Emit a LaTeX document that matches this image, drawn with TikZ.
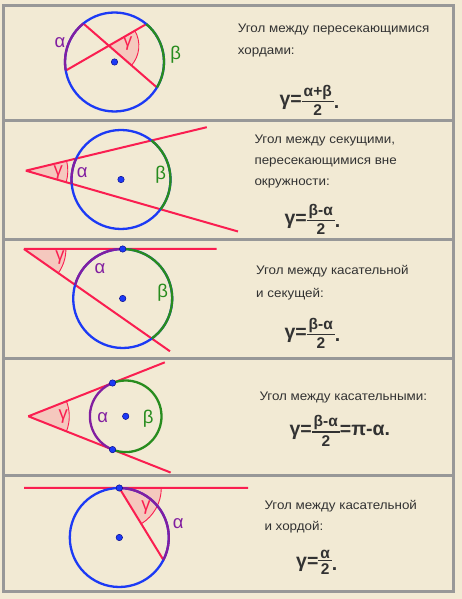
\documentclass[tikz,border=0pt]{standalone}
\usepackage{fontspec}
\setmainfont{Liberation Sans}
\setsansfont{Liberation Sans}
\newfontfamily\descrfont[FakeStretch=1.08]{Liberation Sans}
\usepackage{amsmath}
\usetikzlibrary{arrows,shapes,positioning,calc,angles}

\definecolor{bgbeige}{RGB}{242,234,212}
\definecolor{framegray}{RGB}{152,152,152}
\definecolor{cblue}{RGB}{28,58,245}
\definecolor{cgreen}{RGB}{40,140,30}
\definecolor{cpurple}{RGB}{130,30,160}
\definecolor{cred}{RGB}{250,30,80}
\definecolor{cpink}{RGB}{245,200,190}
\definecolor{txtgray}{RGB}{50,50,50}

\newcommand{\fr}[2]{\ensuremath{\vcenter{\offinterlineskip\fontsize{15.5}{15.5}\selectfont
	\halign{\hfil##\hfil\cr\kern2pt#1\kern2pt\cr\noalign{\kern1.5pt\hrule height1.5pt\kern2.5pt}#2\cr}}}}
\newcommand{\pnt}{\raisebox{-3pt}{.}}

\tikzset{
	circ/.style={cblue, line width=2.3pt},
	arca/.style={cpurple, line width=2.3pt},
	arcb/.style={cgreen, line width=2.3pt},
	secline/.style={cred, line width=2pt},
	gam/.style={draw=cred, fill=cpink, line width=0.9pt},
	dot/.style={circle, fill=cblue, draw=blue!50!black, inner sep=0pt, minimum size=6.5pt},
	lbl/.style={inner sep=0pt, font=\fontsize{18.5}{18.5}\selectfont},
	descr/.style={anchor=base west, inner sep=0pt, text=txtgray, font=\descrfont\fontsize{12.4}{14}\selectfont},
	formula/.style={anchor=west, inner sep=0pt, text=txtgray, font=\fontsize{19.5}{19.5}\selectfont\bfseries}
}

\begin{document}
\begin{tikzpicture}[x=1pt,y=1pt]
	\fill[bgbeige] (0,0) rectangle (462,599);
	\useasboundingbox (0,0) rectangle (462,599);
	\draw[framegray, line width=3pt] (3.5,7) rectangle (453.5,593.5);
	\foreach \y in {478.5,359,240,123.5}
		\draw[framegray, line width=3pt] (3.5,\y) -- (453.5,\y);

	% intersecting chords
	\coordinate (C1) at (114.5,537);
	\coordinate (A1) at ($(C1)+(129:49.5)$);
	\coordinate (B1) at ($(C1)+(190:49.5)$);
	\coordinate (D1) at ($(C1)+(-31:49.5)$);
	\coordinate (E1) at ($(C1)+(50:49.5)$);
	\coordinate (P1) at (intersection of A1--D1 and B1--E1);
	\pic[gam, angle radius=30pt] {angle=D1--P1--E1};
	\draw[secline] (A1) -- (D1) (B1) -- (E1);
	\draw[circ] (C1) circle[radius=49.5];
	\draw[arca] (B1) arc[start angle=190, end angle=129, radius=49.5];
	\draw[arcb] (D1) arc[start angle=-31, end angle=50, radius=49.5];
	\node[dot] (O1) at (C1) {};
	\node[lbl, cpurple] (a1) at (60,556.3) {α};
	\node[lbl, cgreen] (b1) at (175.7,544) {β};
	\node[lbl, cred] (g1) at (127.7,555.7) {γ};
	\node[descr] (t1a) at (237.7,566) {Угол между пересекающимися};
	\node[descr] (t1b) at (237.7,544.5) {хордами:};
	\node[formula] (f1) at (279.3,498.7) {γ=\fr{α+β}{2}\pnt};

	% two secants
	\coordinate (C2) at (121,419.5);
	\coordinate (A2) at ($(C2)+(155:49.5)$);
	\coordinate (B2) at ($(C2)+(52:49.5)$);
	\coordinate (D2) at ($(C2)+(185:49.5)$);
	\coordinate (E2) at ($(C2)+(-37:49.5)$);
	\coordinate (V2) at (intersection of A2--B2 and D2--E2);
	\coordinate (U2) at ($(V2)!1.44!(B2)$);
	\coordinate (W2) at ($(V2)!1.575!(E2)$);
	\pic[gam, angle radius=42pt] {angle=W2--V2--U2};
	\draw[secline] (V2) -- (U2) (V2) -- (W2);
	\draw[circ] (C2) circle[radius=49.5];
	\draw[arca] (A2) arc[start angle=155, end angle=185, radius=49.5];
	\draw[arcb] (E2) arc[start angle=-37, end angle=52, radius=49.5];
	\node[dot] (O2) at (C2) {};
	\node[lbl, cred] (g2) at (58.3,426.7) {γ};
	\node[lbl, cpurple] (a2) at (82.3,426.7) {α};
	\node[lbl, cgreen] (b2) at (160.7,424.7) {β};
	\node[descr] (t2a) at (254.3,455.5) {Угол между секущими,};
	\node[descr] (t2b) at (254.3,434.5) {пересекающимися вне};
	\node[descr] (t2c) at (254.3,413.8) {окружности:};
	\node[formula] (f2) at (284.3,379.7) {γ=\fr{β-α}{2}\pnt};

	% tangent and secant
	\coordinate (C3) at (122.7,300.5);
	\coordinate (T3) at ($(C3)+(90:49.5)$);
	\coordinate (A3) at ($(C3)+(164:49.5)$);
	\coordinate (B3) at ($(C3)+(-54:49.5)$);
	\coordinate (K3) at ($(T3)+(-100,0)$);
	\coordinate (V3) at (intersection of A3--B3 and T3--K3);
	\coordinate (U3) at ($(V3)!1.95!(T3)$);
	\coordinate (W3) at ($(V3)!1.142!(B3)$);
	\pic[gam, angle radius=42pt] {angle=W3--V3--T3};
	\draw[secline] (V3) -- (U3) (V3) -- (W3);
	\draw[circ] (C3) circle[radius=49.5];
	\draw[arca] (T3) arc[start angle=90, end angle=164, radius=49.5];
	\draw[arcb] (B3) arc[start angle=-54, end angle=90, radius=49.5];
	\node[dot] (O3) at (C3) {};
	\node[dot] (M3) at (T3) {};
	\node[lbl, cred] (g3) at (60,341.3) {γ};
	\node[lbl, cpurple] (a3) at (100,330.7) {α};
	\node[lbl, cgreen] (b3) at (162.7,306.7) {β};
	\node[descr] (t3a) at (256,324) {Угол между касательной};
	\node[descr] (t3b) at (256,301.2) {и секущей:};
	\node[formula] (f3) at (284.3,265.7) {γ=\fr{β-α}{2}\pnt};

	% two tangents
	\coordinate (C4) at (125.7,182.7);
	\coordinate (V4) at (28.3,182.7);
	\coordinate (A4) at ($(C4)+(111.57:35.8)$);
	\coordinate (B4) at ($(C4)+(248.43:35.8)$);
	\coordinate (U4) at ($(V4)!1.62!(A4)$);
	\coordinate (W4) at ($(V4)!1.69!(B4)$);
	\pic[gam, angle radius=41pt] {angle=W4--V4--U4};
	\draw[secline] (V4) -- (U4) (V4) -- (W4);
	\draw[arca] (A4) arc[start angle=111.57, end angle=248.43, radius=35.8];
	\draw[arcb] (B4) arc[start angle=-111.57, end angle=111.57, radius=35.8];
	\node[dot] (O4) at (C4) {};
	\node[dot] (M4) at (A4) {};
	\node[dot] (N4) at (B4) {};
	\node[lbl, cred] (g4) at (63.3,182.3) {γ};
	\node[lbl, cpurple] (a4) at (102.7,181.7) {α};
	\node[lbl, cgreen] (b4) at (148.3,180.7) {β};
	\node[descr] (t4a) at (259.3,198) {Угол между касательными:};
	\node[formula] (f4) at (289.3,168.3) {γ=\fr{β-α}{2}=π-α.};

	% tangent and chord
	\coordinate (C5) at (119.3,61.5);
	\coordinate (T5) at ($(C5)+(90:49.5)$);
	\coordinate (Q5) at ($(C5)+(-27:49.5)$);
	\coordinate (L5) at (24,111);
	\coordinate (R5) at (248,111);
	\pic[gam, angle radius=42pt] {angle=Q5--T5--R5};
	\draw[secline] (L5) -- (R5) (T5) -- (Q5);
	\draw[circ] (C5) circle[radius=49.5];
	\draw[arca] (Q5) arc[start angle=-27, end angle=90, radius=49.5];
	\node[dot] (O5) at (C5) {};
	\node[dot] (M5) at (T5) {};
	\node[lbl, cred] (g5) at (146,91.7) {γ};
	\node[lbl, cpurple] (a5) at (178.3,75) {α};
	\node[descr] (t5a) at (264.3,89) {Угол между касательной};
	\node[descr] (t5b) at (264.3,68.2) {и хордой:};
	\node[formula] (f5) at (296,36.7) {γ=\fr{α}{2}\pnt};
\end{tikzpicture}
\end{document}
